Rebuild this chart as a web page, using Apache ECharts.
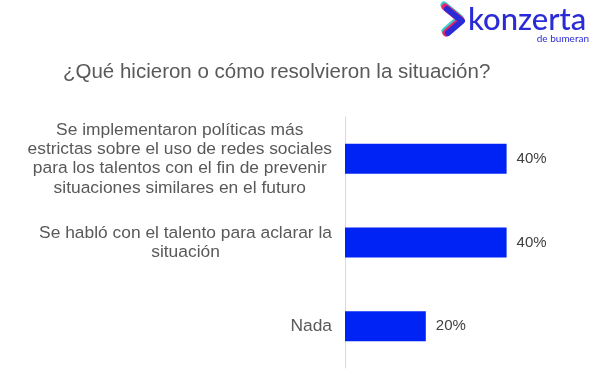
<!DOCTYPE html>
<html>
<head>
<meta charset="utf-8">
<script src="https://cdn.jsdelivr.net/npm/echarts@6/dist/echarts.min.js"></script>
<style>
html,body{margin:0;padding:0;background:#fff;}
#chart{width:600px;height:374px;}
</style>
</head>
<body>
<div id="chart"></div>
<script>
var titleText = '¿Qué hicieron o cómo resolvieron la situación?';
var categories = [
  'Se implementaron políticas más\nestrictas sobre el uso de redes sociales\npara los talentos con el fin de prevenir\nsituaciones similares en el futuro',
  'Se habló con el talento para aclarar la\nsituación',
  'Nada'
];
var values = [40, 40, 20];

var chart = echarts.init(document.getElementById('chart'), null, {renderer: 'canvas'});
chart.setOption({
  backgroundColor: '#ffffff',
  animation: false,
  title: {
    text: titleText,
    left: 58,
    top: 57,
    textStyle: {fontFamily: 'Liberation Sans, Arial, sans-serif', fontSize: 20.5, fontWeight: 'normal', color: '#595959'}
  },
  grid: {left: 345, top: 117, bottom: 6, right: 53, containLabel: false},
  xAxis: {
    type: 'value', min: 0, max: 50, show: false,
    splitLine: {show: false}
  },
  yAxis: {
    type: 'category',
    data: categories,
    inverse: true,
    axisTick: {show: false},
    axisLine: {show: true, lineStyle: {color: '#d9d9d9', width: 1}},
    axisLabel: {
      margin: 13,
      align: 'right',
      formatter: function (v) { return '{a|' + v.split('\n').join('}\n{a|') + '}'; },
      rich: {a: {align: 'center', fontFamily: 'Liberation Sans, Arial, sans-serif', fontSize: 17.4, lineHeight: 19.4, color: '#595959'}}
    }
  },
  series: [{
    type: 'bar',
    data: values,
    barWidth: 30,
    itemStyle: {color: '#0023f5'},
    label: {
      show: true,
      position: 'right',
      distance: 10,
      formatter: '{c}%',
      fontFamily: 'Liberation Sans, Arial, sans-serif',
      fontSize: 15,
      color: '#404040'
    }
  }],
  graphic: [
    {type: 'polyline', shape: {points: [[444, 5], [460, 18], [445, 31]]}, style: {stroke: '#3ccfc8', lineWidth: 7, fill: null, lineJoin: 'round', lineCap: 'round'}},
    {type: 'polyline', shape: {points: [[445, 7], [461, 20], [446, 33]]}, style: {stroke: '#e8246c', lineWidth: 7, fill: null, lineJoin: 'round', lineCap: 'round'}},
    {type: 'polyline', shape: {points: [[447, 9], [462, 21], [448, 33]]}, style: {stroke: '#2a2bd6', lineWidth: 6, fill: null, lineJoin: 'round', lineCap: 'round'}},
    {type: 'text', style: {x: 468, y: 20, text: 'konzerta', fill: '#2a2bd6', font: '500 31px Lato, sans-serif', verticalAlign: 'middle', align: 'left'}},
    {type: 'text', style: {x: 589, y: 39, text: 'de bumeran', fill: '#2a2bd6', font: 'normal 10px Lato, sans-serif', verticalAlign: 'middle', align: 'right'}}
  ]
});
</script>
</body>
</html>
